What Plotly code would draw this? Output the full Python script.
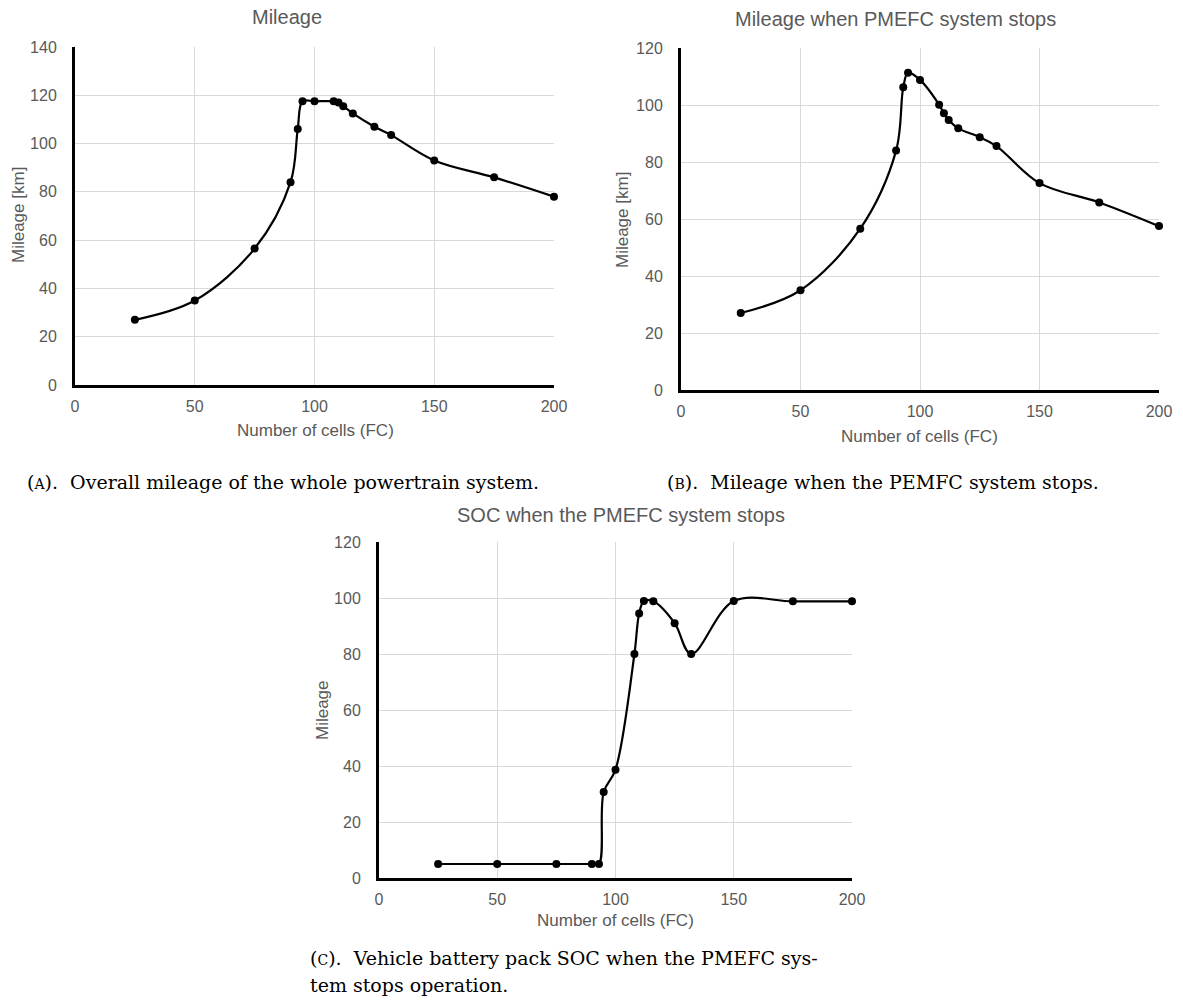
import plotly.graph_objects as go

# ---------------- data ----------------
cells = [25, 50, 75, 90, 93, 95, 100, 108, 110, 112, 116, 125, 132, 150, 175, 200]
mileage_total = [27, 35, 56.5, 84, 106, 117.5, 117.5, 117.5, 117, 115.5, 112.5, 107, 103.5, 93, 86, 78]
mileage_fc_stop = [27, 35, 56.6, 84, 106.2, 111.3, 108.8, 100.1, 97.1, 94.7, 91.8, 88.7, 85.6, 72.6, 65.8, 57.5]
soc_fc_stop = [5, 5, 5, 5, 5, 30.7, 38.7, 80, 94.5, 98.9, 98.8, 91, 80, 98.9, 98.8, 98.8]

x_ticks = [0, 50, 100, 150, 200]
yA_ticks = [0, 20, 40, 60, 80, 100, 120, 140]
yBC_ticks = [0, 20, 40, 60, 80, 100, 120]

# ---------------- layout helpers ----------------
W, H = 1183, 1003
def px(x):
    return x / W
def py(y):
    return 1 - y / H

GRAY = "#595959"
GRID = "#d9d9d9"
SANS = "Liberation Sans, Arial, sans-serif"
SERIF = "DejaVu Serif, serif"

fig = go.Figure(layout=dict(template="none"))
series = [(mileage_total, "x", "y"), (mileage_fc_stop, "x2", "y2"), (soc_fc_stop, "x3", "y3")]
for ys, xa, ya in series:
    fig.add_trace(go.Scatter(
        x=cells, y=ys, xaxis=xa, yaxis=ya, mode="lines+markers",
        line=dict(color="black", width=2.2, shape="spline", smoothing=1),
        marker=dict(color="black", size=8), showlegend=False, hoverinfo="x+y",
        cliponaxis=False))

def xax(domain, anchor):
    return dict(domain=domain, anchor=anchor, range=[0, 200], tickvals=x_ticks,
                showgrid=True, gridcolor=GRID, gridwidth=1, zeroline=False,
                showline=True, linecolor="black", linewidth=3, automargin=False,
                ticks="outside", ticklen=5, tickcolor="rgba(0,0,0,0)",
                tickfont=dict(family=SANS, size=16, color=GRAY), fixedrange=True)

def yax(domain, anchor, top, vals):
    return dict(domain=domain, anchor=anchor, range=[0, top], tickvals=vals,
                showgrid=True, gridcolor=GRID, gridwidth=1, zeroline=False,
                showline=True, linecolor="black", linewidth=3, automargin=False,
                ticks="outside", ticklen=12, tickcolor="rgba(0,0,0,0)",
                tickfont=dict(family=SANS, size=16, color=GRAY), fixedrange=True)

fig.update_layout(
    width=W, height=H, margin=dict(l=0, r=0, t=0, b=0, pad=0), autosize=False,
    paper_bgcolor="white", plot_bgcolor="white",
    xaxis=xax([px(75), px(554)], "y"),
    yaxis=yax([py(385), py(47)], "x", 140, yA_ticks),
    xaxis2=xax([px(681), px(1159)], "y2"),
    yaxis2=yax([py(390), py(48)], "x2", 120, yBC_ticks),
    xaxis3=xax([px(379), px(852)], "y3"),
    yaxis3=yax([py(878), py(542)], "x3", 120, yBC_ticks),
)

ann = []
def text(x, y, s, size=16, color=GRAY, family=SANS, angle=0, xanchor="center"):
    ann.append(dict(x=px(x), y=py(y), xref="paper", yref="paper", text=s, showarrow=False,
                    font=dict(family=family, size=size, color=color), textangle=angle,
                    xanchor=xanchor, yanchor="middle", align="left"))

# chart titles
text(287, 17, "Mileage", 20)
text(895, 19, "Mileage when PMEFC system stops", 20)
text(621, 515, "SOC when the PMEFC system stops", 20)
# axis titles
text(315, 431, "Number of cells (FC)", 17)
text(919, 436, "Number of cells (FC)", 17)
text(615, 920, "Number of cells (FC)", 17)
text(18, 215, "Mileage [km]", 17, angle=-90)
text(623, 220, "Mileage [km]", 17, angle=-90)
text(322, 710, "Mileage", 17, angle=-90)
# captions
sc = "<span style='font-size:14px'>%s</span>"
text(25, 482, "(" + sc % "A" + ").  Overall mileage of the whole powertrain system.", 19, "black", SERIF, xanchor="left")
text(665, 482, "(" + sc % "B" + ").  Mileage when the PEMFC system stops.", 19, "black", SERIF, xanchor="left")
text(308, 958, "(" + sc % "C" + ").  Vehicle battery pack SOC when the PMEFC sys-", 19, "black", SERIF, xanchor="left")
text(308, 985, "tem stops operation.", 19, "black", SERIF, xanchor="left")

fig.update_layout(annotations=ann)
fig.write_html("out.html", config={"displayModeBar": False},
               post_script="document.body.style.margin='0';document.body.style.overflow='hidden';")
